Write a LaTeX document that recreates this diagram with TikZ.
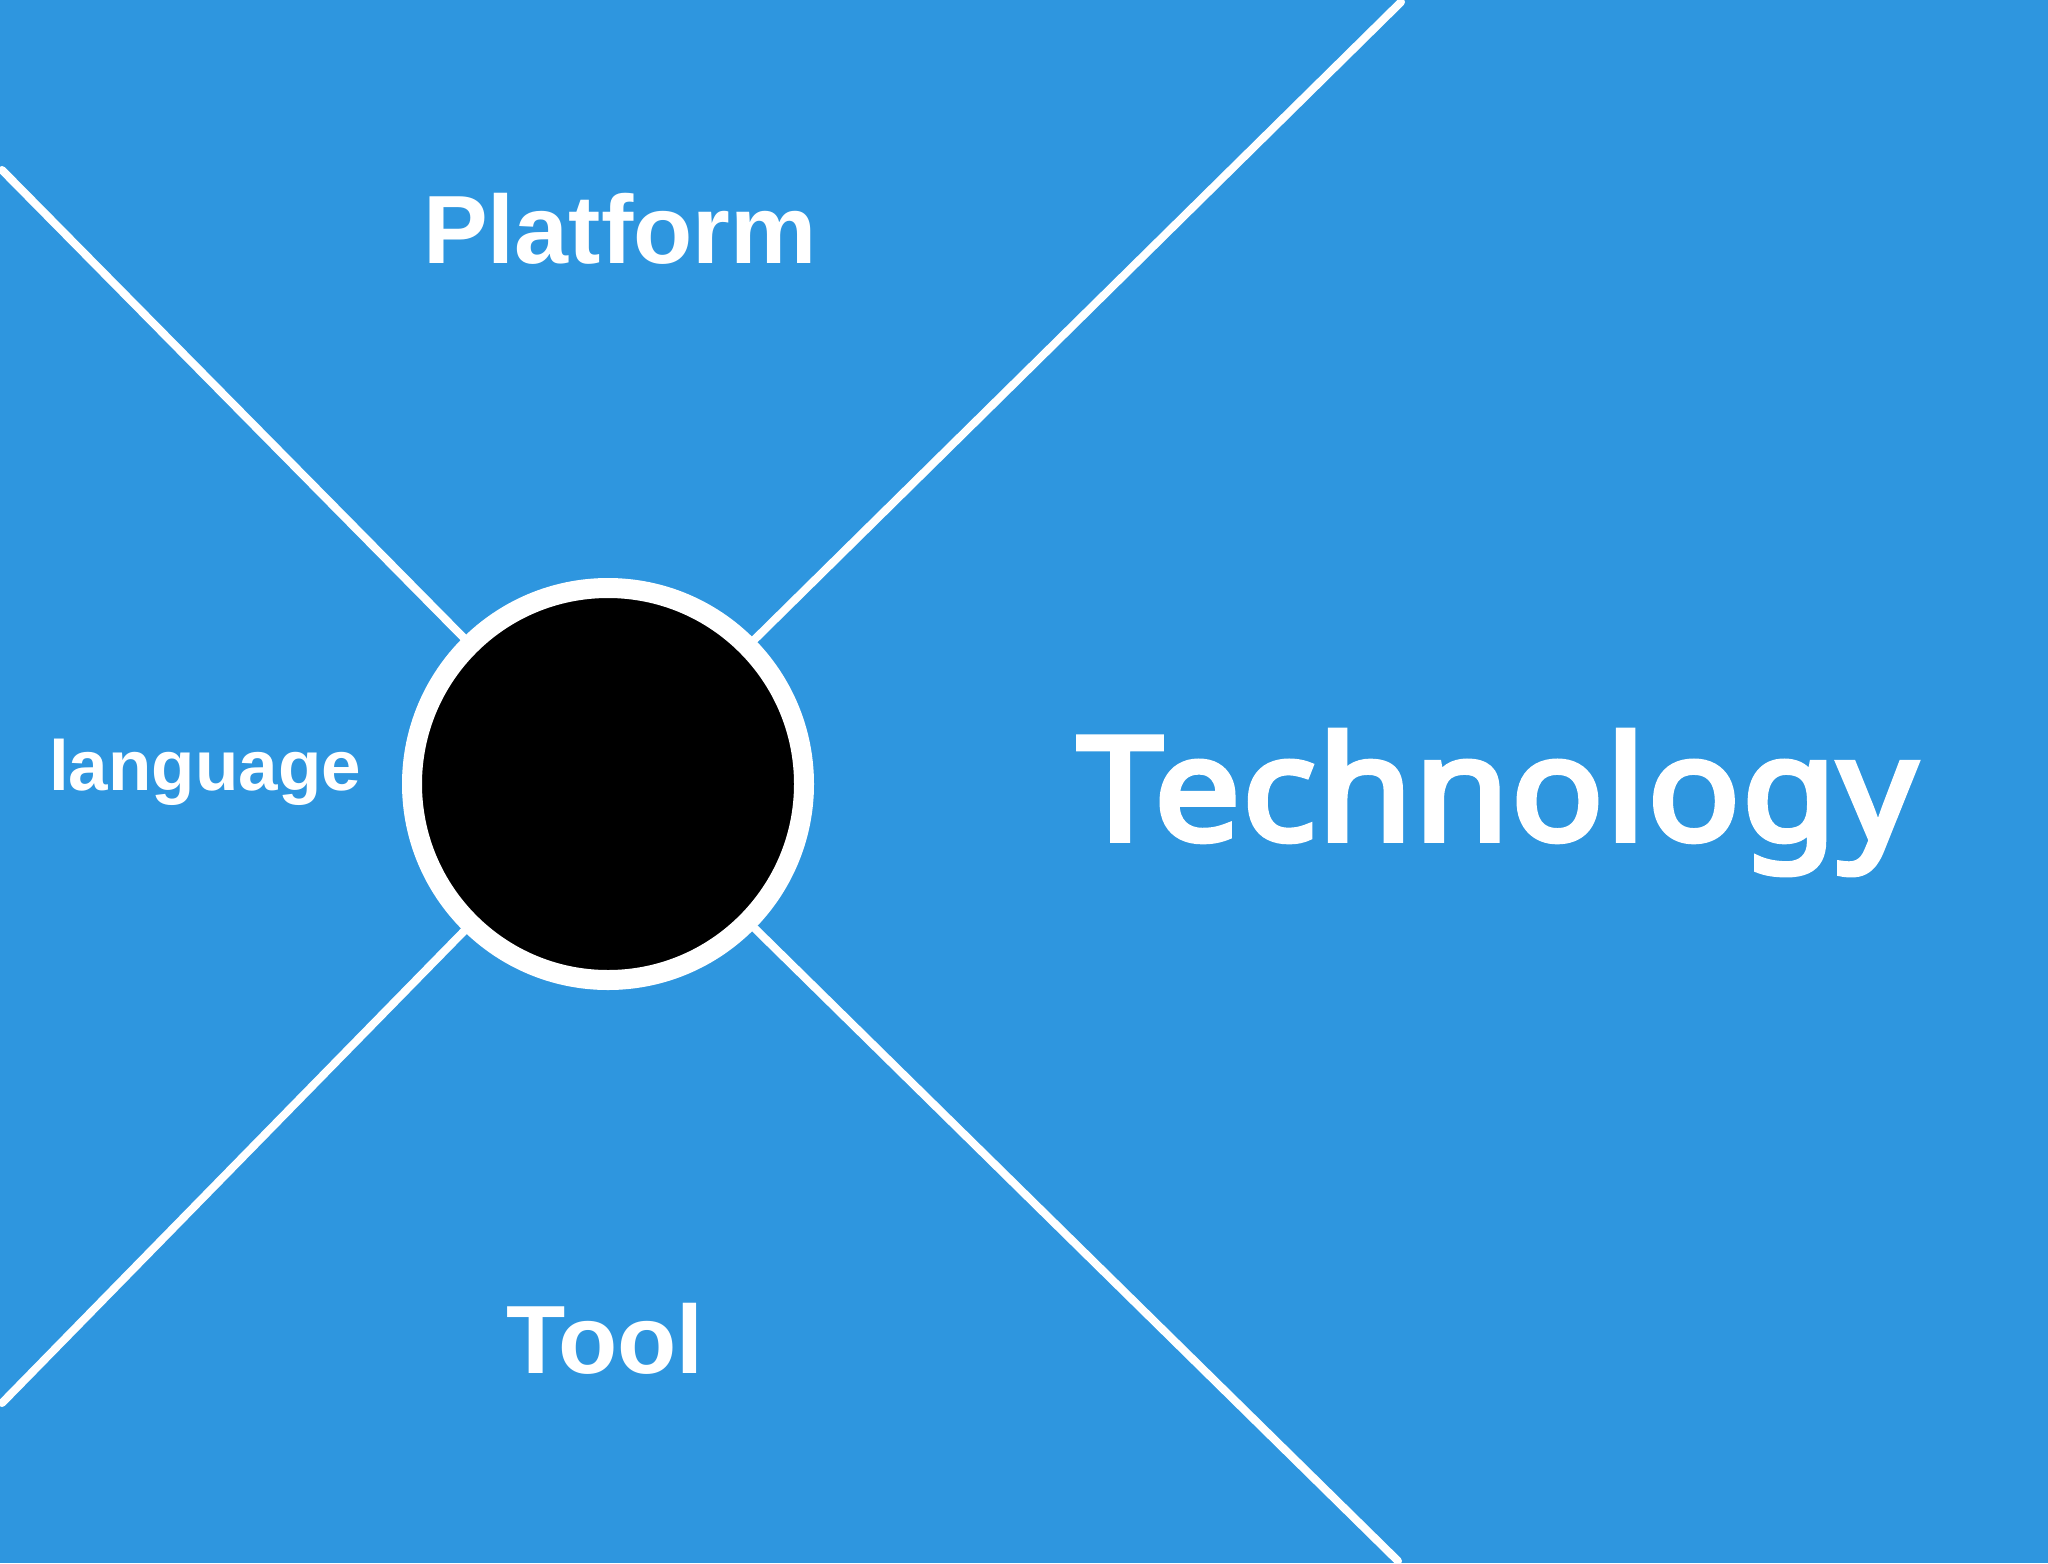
\documentclass[tikz,border=0pt]{standalone}
\usepackage{fontspec}
\setmainfont{Liberation Sans}
\newfontfamily\techfont{Noto Sans}[FakeBold=4]
\definecolor{bgblue}{RGB}{46,150,223}
\tikzset{
  spoke/.style={draw=white, line width=4pt, line cap=round},
  hub/.style={circle, fill=black, draw=white, line width=10pt, minimum size=196pt, inner sep=0pt},
  lbl/.style={text=white, anchor=base, inner sep=0pt}
}
\begin{document}
\begin{tikzpicture}[x=0.5pt,y=-0.5pt]
\useasboundingbox (0,0) rectangle (2048,1563);
\fill[bgblue] (0,0) rectangle (2048,1563);
\node[hub] (c) at (608,784) {};
\coordinate (tl) at (2,170);
\coordinate (tr) at (1401,2);
\coordinate (bl) at (2,1403);
\coordinate (br) at (1398,1561);
\draw[spoke] (tl) -- (c);
\draw[spoke] (tr) -- (c);
\draw[spoke] (bl) -- (c);
\draw[spoke] (br) -- (c);
\node[lbl] (platform) at (620,263) {\fontsize{48.5pt}{58pt}\selectfont\bfseries Platform};
\node[lbl] (language) at (205,790) {\fontsize{35.5pt}{42pt}\selectfont\bfseries language};
\node[lbl] (tool) at (605,1373) {\fontsize{48.5pt}{58pt}\selectfont\bfseries Tool};
\node[lbl] (tech) at (1497,840) {\scalebox{1.06}[1]{\techfont\fontsize{72pt}{87pt}\selectfont\addfontfeature{LetterSpace=1.5}Technology}};
\end{tikzpicture}
\end{document}
